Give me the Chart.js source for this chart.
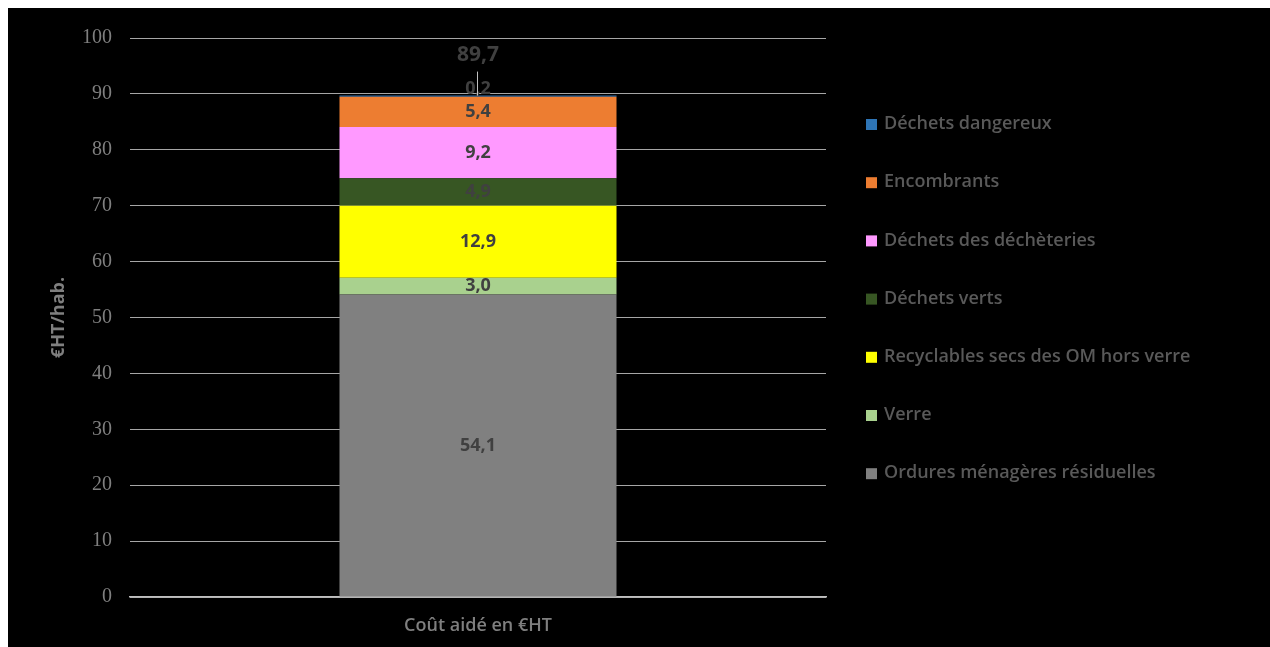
<!DOCTYPE html>
<html>
<head>
<meta charset="utf-8">
<script src="https://cdn.jsdelivr.net/npm/chart.js@4"></script>
<style>
  html, body { margin: 0; padding: 0; background: #fff; overflow: hidden; }
  #wrap { position: absolute; left: 8px; top: 8px; width: 1262px; height: 639px; background: #000; }
</style>
</head>
<body>
<div id="wrap"><canvas id="graphique" width="1262" height="639"></canvas></div>
<script>
// données
const categories = ["Coût aidé en €HT"];
const flux = [
  "Ordures ménagères résiduelles",
  "Verre",
  "Recyclables secs des OM hors verre",
  "Déchets verts",
  "Déchets des déchèteries",
  "Encombrants",
  "Déchets dangereux"
];
const valeurs = [54.1, 3.0, 12.9, 4.9, 9.2, 5.4, 0.2];
const couleurs = ["#808080", "#a9d18e", "#ffff00", "#375623", "#ff99ff", "#ed7d31", "#2e75b6"];
const graduations = [0, 10, 20, 30, 40, 50, 60, 70, 80, 90, 100];

const fmt = v => v.toFixed(1).replace(".", ",");

// étiquettes des segments + total
const etiquettes = {
  id: "etiquettes",
  afterDatasetsDraw(chart) {
    const ctx = chart.ctx;
    ctx.save();
    ctx.textAlign = "center";
    ctx.textBaseline = "middle";
    ctx.fillStyle = "#404040";
    ctx.font = "bold 18px 'Open Sans'";
    let haut = null, xc = null;
    chart.data.datasets.forEach((ds, i) => {
      const bar = chart.getDatasetMeta(i).data[0];
      let y = (bar.y + bar.base) / 2;
      if (i === chart.data.datasets.length - 1) y -= 7;
      ctx.fillText(fmt(ds.data[0]), bar.x, y);
      haut = bar.y; xc = bar.x;
    });
    const total = valeurs.reduce((a, b) => a + b, 0);
    ctx.font = "bold 21px 'Open Sans'";
    ctx.fillText(fmt(total), xc, haut - 41);
    ctx.strokeStyle = "#bfbfbf";
    ctx.lineWidth = 1;
    ctx.beginPath();
    ctx.moveTo(Math.round(xc) - 0.5, haut - 24);
    ctx.lineTo(Math.round(xc) - 0.5, haut);
    ctx.stroke();
    ctx.restore();
  }
};

// légende à droite, ordre inversé
const legende = {
  id: "legende",
  afterDraw(chart) {
    const ctx = chart.ctx;
    const x0 = chart.chartArea.right + 40;
    ctx.save();
    ctx.font = "600 18px 'Open Sans'";
    ctx.textBaseline = "middle";
    ctx.textAlign = "left";
    const n = chart.data.datasets.length;
    for (let k = 0; k < n; k++) {
      const ds = chart.data.datasets[n - 1 - k];
      const y = 116 + k * 58.2;
      ctx.fillStyle = ds.backgroundColor;
      ctx.fillRect(x0, y - 5, 11, 11);
      ctx.fillStyle = "#595959";
      ctx.fillText(ds.label, x0 + 18, y);
    }
    ctx.restore();
  }
};

new Chart(document.getElementById("graphique").getContext("2d"), {
  type: "bar",
  data: {
    labels: categories,
    datasets: flux.map((nom, i) => ({
      label: nom,
      data: [valeurs[i]],
      backgroundColor: couleurs[i],
      borderWidth: 0,
      categoryPercentage: 1,
      barPercentage: 0.398
    }))
  },
  options: {
    responsive: false,
    animation: false,
    layout: { padding: { top: 29, right: 444, left: 0, bottom: 0 } },
    plugins: { legend: { display: false }, tooltip: { enabled: false } },
    scales: {
      x: {
        stacked: true,
        grid: { display: false, drawTicks: false },
        border: { display: true, color: "#bfbfbf", width: 1.5 },
        ticks: { color: "#7f7f7f", font: { family: "Open Sans", size: 18, weight: "600" }, padding: 18 },
        afterFit: s => { s.height = 50; }
      },
      y: {
        stacked: true,
        min: 0,
        max: 100,
        afterBuildTicks: s => { s.ticks = graduations.map(v => ({ value: v })); },
        grid: { color: "#a6a6a6", drawTicks: false },
        border: { display: false },
        ticks: { color: "#7f7f7f", font: { family: "Liberation Serif", size: 20 }, padding: 18 },
        title: {
          display: true,
          text: "€HT/hab.",
          color: "#7f7f7f",
          font: { family: "Open Sans", size: 18, weight: "bold" },
          padding: { top: 40, bottom: 0 }
        },
        afterFit: s => { s.width = 122; }
      }
    }
  },
  plugins: [etiquettes, legende]
});
</script>
</body>
</html>
